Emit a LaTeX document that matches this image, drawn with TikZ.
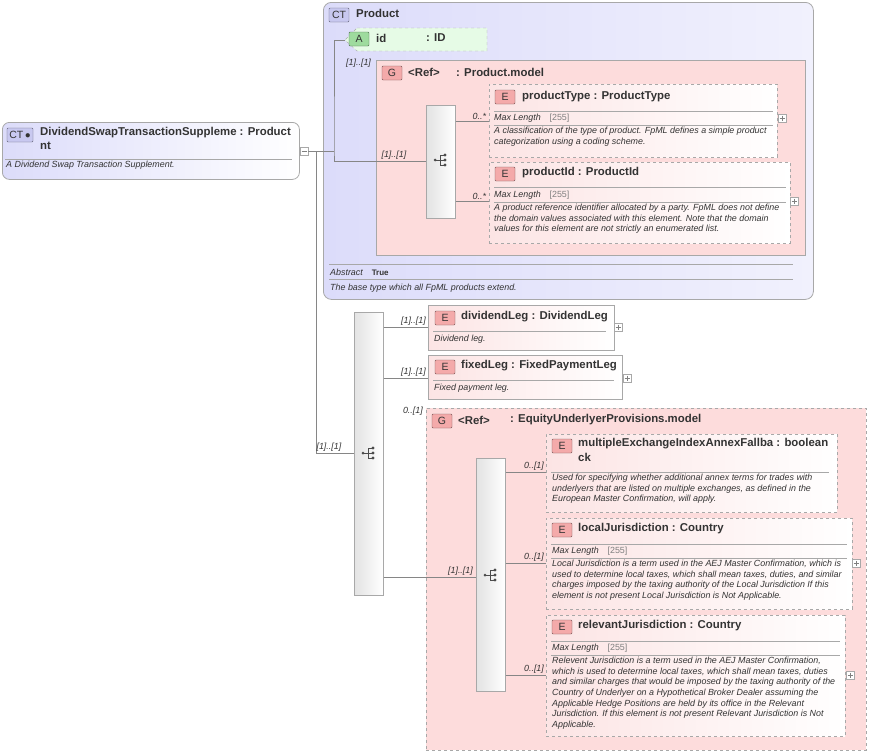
\documentclass[tikz,border=0pt]{standalone}
\usepackage{fontspec}
\setmainfont{Liberation Sans}
\usetikzlibrary{positioning,calc}
\definecolor{ctfill}{HTML}{DCDCFA}
\definecolor{grpfill}{HTML}{FDDCDC}
\definecolor{elfill}{HTML}{FCE4E4}
\definecolor{attfill}{HTML}{E6FBE6}
\definecolor{bordgray}{HTML}{A8A8A8}
\definecolor{txtgray}{HTML}{333333}
\definecolor{bdgblue}{HTML}{C8C8F0}
\definecolor{bdgred}{HTML}{F4AAAA}
\definecolor{bdggreen}{HTML}{9EDB9E}
\tikzset{
  ttl/.style={font=\fontsize{11.4}{13}\selectfont\bfseries, text=txtgray, anchor=west, inner sep=0},
  dsc/.style={font=\fontsize{8.9}{10.6}\selectfont\itshape, text=txtgray, anchor=north west, inner sep=0, align=left},
  card/.style={font=\fontsize{8.9}{9}\selectfont\itshape, text=txtgray, anchor=south east, inner sep=1pt},
  badge/.style={draw=#1!50!black, fill=#1, rounded corners=1pt, minimum width=20pt, minimum height=14pt, inner sep=0, font=\fontsize{10.5}{10.5}\selectfont, text=txtgray},
  sep/.style={draw=bordgray, line width=0.6pt},
  conn/.style={draw=bordgray!80!black, line width=0.6pt},
  plus/.style={draw=bordgray, fill=white, minimum size=8pt, inner sep=0, line width=0.4pt},
  seqbox/.style={draw=bordgray, left color=gray!22, right color=white, line width=0.6pt}
}
% box between two corners
\newcommand{\pbox}[6]{%
  \node[#1, anchor=north west, inner sep=0, minimum width={(#4-#2)*1pt}, minimum height={(#5-#3)*1pt}] (#6) at (#2,#3) {};}
\newcommand{\plusmark}[3]{%
  \node[plus] (#1) at (#2,#3) {};
  \draw[gray, line width=0.4pt] ($(#1)+(-2.5,0)$) -- ($(#1)+(2.5,0)$) ($(#1)+(0,-2.5)$) -- ($(#1)+(0,2.5)$);}
\newcommand{\seqicon}[2]{%
  \fill[black!70] (#1-6,#2) circle (1.5pt);
  \draw[black!70, line width=0.7pt] (#1-6,#2) -- (#1-1,#2) (#1-1,#2-5) -- (#1-1,#2+5)
    (#1-1,#2-5) -- (#1+3,#2-5) (#1-1,#2) -- (#1+3,#2) (#1-1,#2+5) -- (#1+3,#2+5);
  \foreach \dy in {-5,0,5} \fill[black!70] (#1+4,#2+\dy) circle (1.6pt);}
\begin{document}
\begin{tikzpicture}[x=1pt, y=-1pt]
\useasboundingbox (0,0) rectangle (872,755);

% root type
\pbox{draw=bordgray, rounded corners=7pt, left color=ctfill, right color=white, line width=0.8pt}{2}{122}{299}{179}{root}
\node[badge=bdgblue, minimum width=26pt] (rootct) at (20,135) {CT\,$\bullet$};
\node[ttl] at (40,133) {DividendSwapTransactionSuppleme : Product};
\node[ttl] at (40,146) {nt};
\draw[sep] (5,159) -- (292,159);
\node[dsc] at (6,161) {A Dividend Swap Transaction Supplement.};
\node[plus] (rootmin) at (304,151) {};
\draw[gray, line width=0.4pt] (301.5,151) -- (306.5,151);

% Product base type
\pbox{draw=bordgray, rounded corners=8pt, left color=ctfill, right color=ctfill!40, line width=0.8pt}{323}{2}{813}{299}{product}
\node[badge=bdgblue] at (339,15) {CT};
\node[ttl] at (356,13) {Product};
\draw[dashed, draw=bordgray, fill=attfill] (357,28) -- (487,28) -- (487,51) -- (357,51) -- (345,40) -- cycle;
\node[badge=bdggreen] (attA) at (359,39) {A};
\coordinate (attin) at (345,40);
\node[ttl] at (376,38) {id};
\node[ttl] at (426,38) {: ID};
\node[card, anchor=west] at (345,63) {[1]..[1]};

\pbox{draw=bordgray, fill=grpfill, line width=0.8pt}{376}{60}{805}{255}{prodmodel}
\node[badge=bdgred] at (392,73) {G};
\node[ttl] at (408,72) {<Ref>};
\node[ttl] at (456,72) {: Product.model};
\pbox{seqbox}{426}{105}{455}{218}{seqA}
\seqicon{441}{160}

\pbox{draw=bordgray, dashed, left color=elfill, right color=white}{489}{84}{777}{157}{ptype}
\node[badge=bdgred] at (505,97) {E};
\node[ttl] at (522,97) {productType : ProductType};
\draw[sep] (494,111) -- (773,111);
\node[dsc, anchor=west] at (494,118) {Max Length\quad\upshape\color{gray}[255]};
\draw[sep] (494,125) -- (773,125);
\node[dsc] at (494,127) {A classification of the type of product. FpML defines a simple product\\categorization using a coding scheme.};
\plusmark{ptplus}{782}{118}

\pbox{draw=bordgray, dashed, left color=elfill, right color=white}{489}{162}{790}{243}{pid}
\node[badge=bdgred] at (505,174) {E};
\node[ttl] at (522,173) {productId : ProductId};
\draw[sep] (494,187) -- (786,187);
\node[dsc, anchor=west] at (494,195) {Max Length\quad\upshape\color{gray}[255]};
\draw[sep] (494,202) -- (786,202);
\node[dsc] at (494,204) {A product reference identifier allocated by a party. FpML does not define\\the domain values associated with this element. Note that the domain\\values for this element are not strictly an enumerated list.};
\plusmark{pidplus}{794}{201}

\draw[sep] (329,264) -- (793,264);
\node[dsc, anchor=west] at (330,272) {Abstract\quad\upshape\bfseries\fontsize{8}{9}\selectfont True};
\draw[sep] (329,279) -- (793,279);
\node[dsc, anchor=west] at (330,288) {The base type which all FpML products extend.};

% main sequence
\pbox{seqbox}{354}{312}{383}{595}{seqB}
\seqicon{369}{453}

\pbox{draw=bordgray, left color=elfill, right color=white, line width=0.8pt}{428}{305}{614}{350}{divleg}
\node[badge=bdgred] at (445,318) {E};
\node[ttl] at (461,317) {dividendLeg : DividendLeg};
\draw[sep] (433,331) -- (606,331);
\node[dsc, anchor=west] at (434,339) {Dividend leg.};
\plusmark{dlplus}{618}{327}

\pbox{draw=bordgray, left color=elfill, right color=white, line width=0.8pt}{428}{355}{622}{399}{fixleg}
\node[badge=bdgred] at (445,367) {E};
\node[ttl] at (461,366) {fixedLeg : FixedPaymentLeg};
\draw[sep] (433,380) -- (614,380);
\node[dsc, anchor=west] at (434,388) {Fixed payment leg.};
\plusmark{flplus}{627}{378}

\pbox{draw=bordgray, dashed, fill=grpfill, line width=0.8pt}{426}{408}{866}{750}{eqmodel}
\node[badge=bdgred] at (442,421) {G};
\node[ttl] at (458,420) {<Ref>};
\node[ttl] at (510,420) {: EquityUnderlyerProvisions.model};
\pbox{seqbox}{476}{458}{505}{691}{seqC}
\seqicon{491}{575}

\pbox{draw=bordgray, dashed, left color=elfill, right color=white}{546}{434}{837}{512}{mult}
\node[badge=bdgred] at (562,446) {E};
\node[ttl] at (578,444) {multipleExchangeIndexAnnexFallba : boolean};
\node[ttl] at (578,457) {ck};
\draw[sep] (551,472) -- (829,472);
\node[dsc] at (552,474) {Used for specifying whether additional annex terms for trades with\\underlyers that are listed on multiple exchanges, as defined in the\\European Master Confirmation, will apply.};

\pbox{draw=bordgray, dashed, left color=elfill, right color=white}{546}{518}{852}{609}{localj}
\node[badge=bdgred] at (562,530) {E};
\node[ttl] at (578,529) {localJurisdiction : Country};
\draw[sep] (551,544) -- (847,544);
\node[dsc, anchor=west] at (552,551) {Max Length\quad\upshape\color{gray}[255]};
\draw[sep] (551,558) -- (847,558);
\node[dsc] at (552,560) {Local Jurisdiction is a term used in the AEJ Master Confirmation, which is\\used to determine local taxes, which shall mean taxes, duties, and similar\\charges imposed by the taxing authority of the Local Jurisdiction If this\\element is not present Local Jurisdiction is Not Applicable.};
\plusmark{ljplus}{856}{563}

\pbox{draw=bordgray, dashed, left color=elfill, right color=white}{546}{615}{845}{736}{relj}
\node[badge=bdgred] at (562,627) {E};
\node[ttl] at (578,626) {relevantJurisdiction : Country};
\draw[sep] (551,641) -- (840,641);
\node[dsc, anchor=west] at (552,648) {Max Length\quad\upshape\color{gray}[255]};
\draw[sep] (551,655) -- (840,655);
\node[dsc] at (552,657) {Relevent Jurisdiction is a term used in the AEJ Master Confirmation,\\which is used to determine local taxes, which shall mean taxes, duties\\and similar charges that would be imposed by the taxing authority of the\\Country of Underlyer on a Hypothetical Broker Dealer assuming the\\Applicable Hedge Positions are held by its office in the Relevant\\Jurisdiction. If this element is not present Relevant Jurisdiction is Not\\Applicable.};
\plusmark{rjplus}{850}{675}

% connectors
\draw[conn] (rootmin.east) -- (334,151) coordinate (fork);
\draw[conn] (attin) -| (fork) |- (seqA.west |- 0,161) node[card, pos=0.9] {[1]..[1]};
\draw[conn] (rootmin.east) -- (316,151) |- (seqB.west |- 0,453) node[card, pos=0.85] {[1]..[1]};
\draw[conn] (seqA.east |- 0,121) -- (ptype.west |- 0,121) node[card, pos=0.95] {0..*};
\draw[conn] (seqA.east |- 0,201) -- (pid.west |- 0,201) node[card, pos=0.95] {0..*};
\draw[conn] (seqB.east |- 0,327) -- (divleg.west |- 0,327) node[card, pos=0.98] {[1]..[1]};
\draw[conn] (seqB.east |- 0,378) -- (fixleg.west |- 0,378) node[card, pos=0.98] {[1]..[1]};
\draw[conn] (seqB.east |- 0,577) -- (seqC.west |- 0,577) node[card, pos=0.98] {[1]..[1]};
\node[card, anchor=south east] at (424,417) {0..[1]};
\draw[conn] (seqC.east |- 0,472) -- (mult.west |- 0,472) node[card, pos=0.98] {0..[1]};
\draw[conn] (seqC.east |- 0,563) -- (localj.west |- 0,563) node[card, pos=0.98] {0..[1]};
\draw[conn] (seqC.east |- 0,675) -- (relj.west |- 0,675) node[card, pos=0.98] {0..[1]};
\end{tikzpicture}
\end{document}
